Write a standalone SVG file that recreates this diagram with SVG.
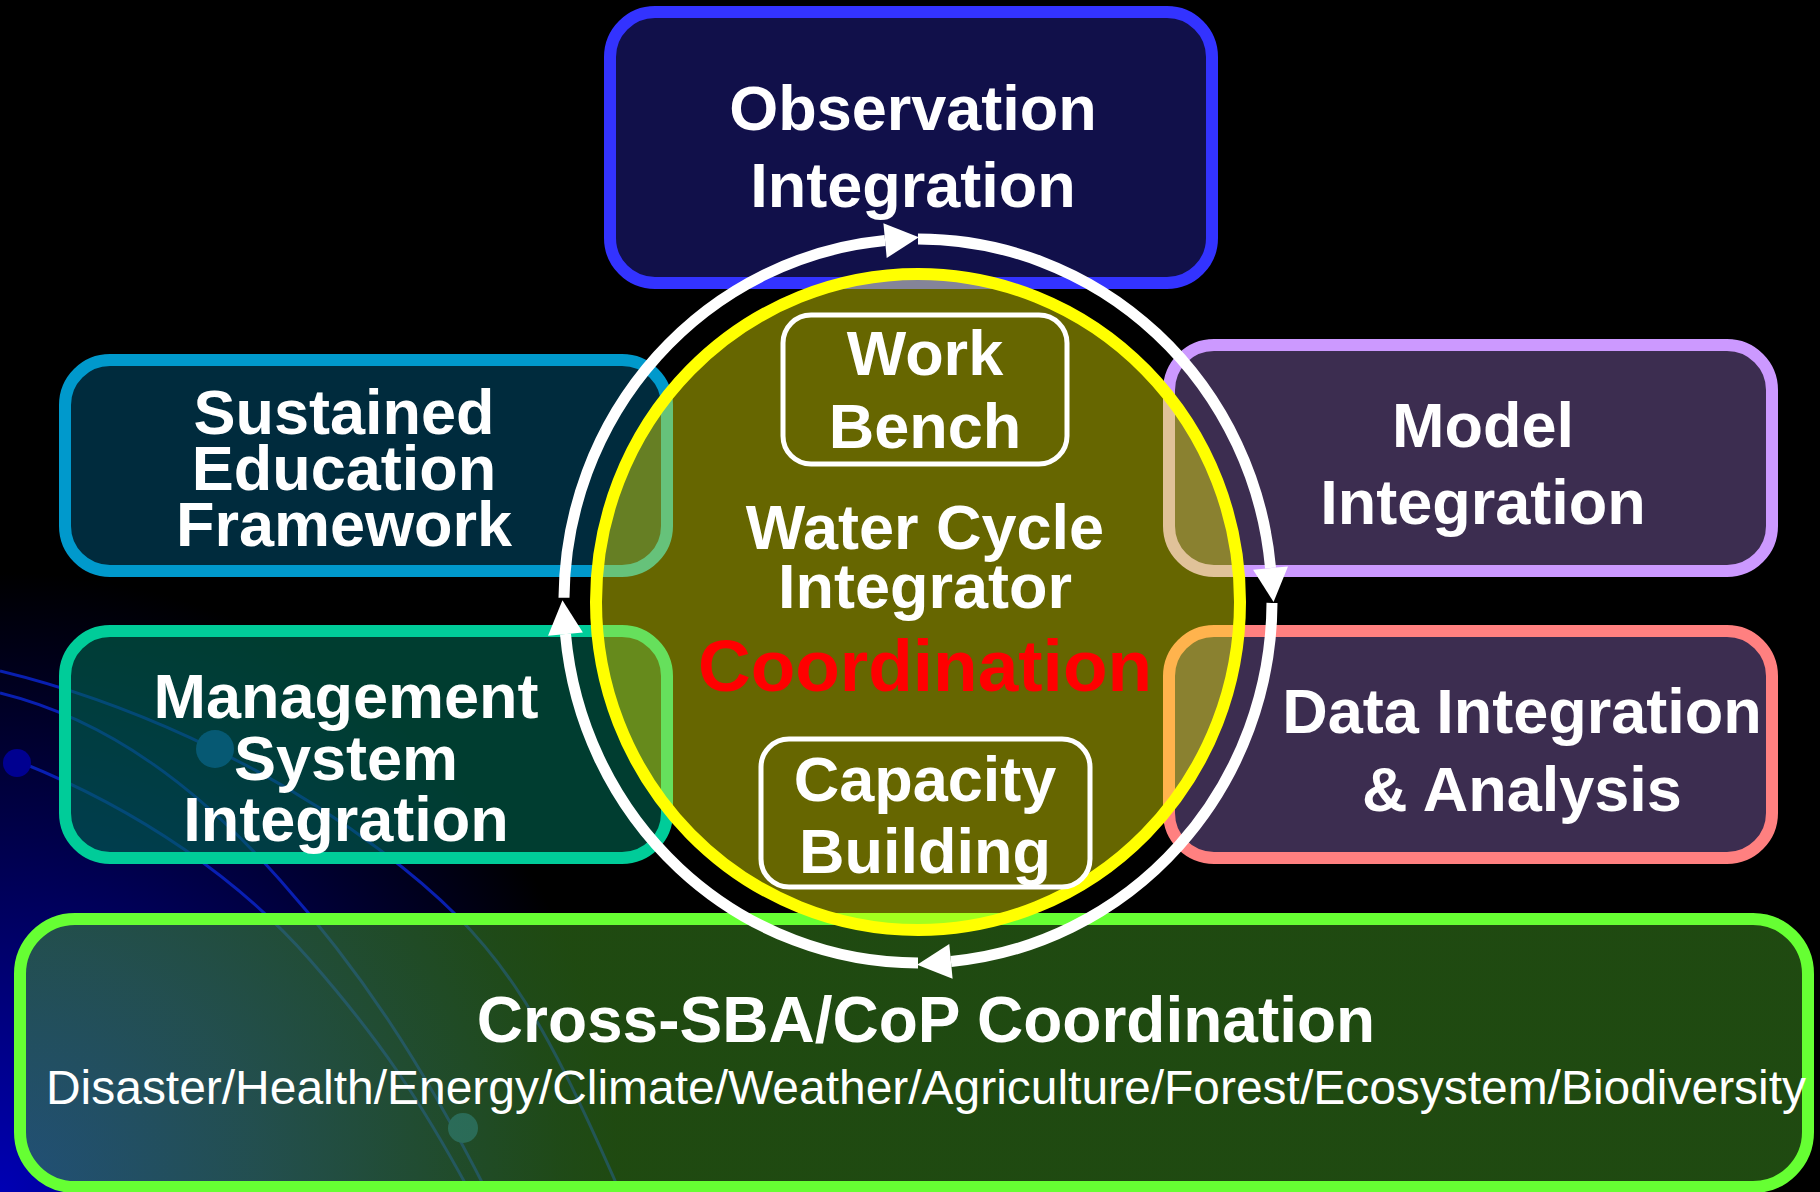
<svg xmlns="http://www.w3.org/2000/svg" width="1820" height="1192" viewBox="0 0 1820 1192">
  <defs>
    <radialGradient id="bgGlow" gradientUnits="userSpaceOnUse" cx="0" cy="1192" r="620">
      <stop offset="0" stop-color="#0000B4"/>
      <stop offset="0.45" stop-color="#000060"/>
      <stop offset="1" stop-color="#000000"/>
    </radialGradient>
    <radialGradient id="bottomFill" gradientUnits="userSpaceOnUse" cx="20" cy="1192" r="540">
      <stop offset="0" stop-color="#378552"/>
      <stop offset="0.45" stop-color="#3A8340"/>
      <stop offset="1" stop-color="#347B1C"/>
    </radialGradient>
    <marker id="ah" markerUnits="userSpaceOnUse" markerWidth="40" markerHeight="40" refX="0" refY="17.5" orient="auto" overflow="visible">
      <path d="M0,0 L34,17.5 L0,35 Z" fill="#FFFFFF"/>
    </marker>
    <style>
      .t { font-family: "Liberation Sans", Arial, Helvetica, sans-serif; font-weight: bold; font-size: 63px; fill: #FFFFFF; text-anchor: middle; }
      .box { stroke-width: 12; fill-opacity: 0.88; }
      .see { fill-opacity: 0.6; }
      .orbit { fill: none; stroke: #0A22C0; stroke-width: 3; opacity: 0.9; }
      .ring { fill: none; stroke: #FFFFFF; stroke-width: 11; marker-end: url(#ah); }
      .inner { fill: none; stroke: #FFFFFF; stroke-width: 5; }
    </style>
  </defs>

  <g id="background">
    <rect x="0" y="0" width="1820" height="1192" fill="#000000"/>
    <rect x="0" y="500" width="700" height="692" fill="url(#bgGlow)"/>
  </g>

  <g id="decor">
    <path class="orbit" d="M0,671 C120,700 260,760 380,850 S540,1010 620,1192"/>
    <path class="orbit" d="M0,693 C110,720 200,790 280,880 S420,1060 487,1192"/>
    <path class="orbit" d="M20,762 C140,810 240,880 310,960 S420,1100 470,1192"/>
    <circle cx="17" cy="763" r="14" fill="#000090"/>
    <circle cx="215" cy="749" r="19" fill="#1048A8"/>
    <circle cx="463" cy="1128" r="15" fill="#1A50A0"/>
  </g>

  <g id="observation-integration">
    <rect class="box" x="610" y="12" width="602" height="271" rx="45" fill="#131254" stroke="#3333FF"/>
    <text class="t" x="913" y="130">Observation</text>
    <text class="t" x="913" y="207">Integration</text>
  </g>

  <g id="sustained-education-framework">
    <rect class="box" x="65" y="360" width="602" height="211" rx="45" fill="#003145" stroke="#0099CC"/>
    <text class="t" x="344" y="434">Sustained</text>
    <text class="t" x="344" y="490">Education</text>
    <text class="t" x="344" y="546">Framework</text>
  </g>

  <g id="management-system-integration">
    <rect class="box see" x="65" y="631" width="602" height="227" rx="45" fill="#006650" stroke="#00CC99"/>
    <text class="t" x="346" y="718">Management</text>
    <text class="t" x="346" y="780">System</text>
    <text class="t" x="346" y="841">Integration</text>
  </g>

  <g id="model-integration">
    <rect class="box" x="1169" y="345" width="603" height="226" rx="45" fill="#44335B" stroke="#CC99FF"/>
    <text class="t" x="1483" y="447">Model</text>
    <text class="t" x="1483" y="524">Integration</text>
  </g>

  <g id="data-integration-analysis">
    <rect class="box" x="1169" y="631" width="603" height="227" rx="45" fill="#44335B" stroke="#FF8080"/>
    <text class="t" x="1522" y="733">Data Integration</text>
    <text class="t" x="1522" y="811">&amp; Analysis</text>
  </g>

  <g id="cross-sba-cop-coordination">
    <rect class="box see" x="20" y="919" width="1788" height="268" rx="55" fill="url(#bottomFill)" stroke="#66FF33"/>
    <text class="t" x="926" y="1042" style="font-size:64px;">Cross-SBA/CoP Coordination</text>
    <text x="46" y="1104" textLength="1760" lengthAdjust="spacingAndGlyphs" style="font-family:'Liberation Sans',Arial,Helvetica,sans-serif;font-size:48px;fill:#FFFFFF;">Disaster/Health/Energy/Climate/Weather/Agriculture/Forest/Ecosystem/Biodiversity</text>
  </g>

  <g id="water-cycle-integrator">
    <ellipse cx="918" cy="602" rx="322" ry="328" fill="#FFFF00" fill-opacity="0.4" stroke="#FFFF00" stroke-width="12"/>
    <text class="t" x="925" y="549">Water Cycle</text>
    <text class="t" x="925" y="608">Integrator</text>
    <text class="t" x="925" y="691" style="font-size:73px;fill:#FF0000;">Coordination</text>
  </g>

  <g id="connectors">
    <path class="ring" d="M564,597.8 A354,362 0 0 1 885.06,240.57"/>
    <path class="ring" d="M918,239 A354,362 0 0 1 1270.53,568.07"/>
    <path class="ring" d="M1272,602.9 A354,362 0 0 1 950.94,961.43"/>
    <path class="ring" d="M918,963 A354,362 0 0 1 565.47,634.07"/>
  </g>

  <g id="work-bench">
    <rect class="inner" x="783" y="315" width="284" height="149" rx="28"/>
    <text class="t" x="925" y="375">Work</text>
    <text class="t" x="925" y="448">Bench</text>
  </g>

  <g id="capacity-building">
    <rect class="inner" x="761" y="739" width="329" height="148" rx="28"/>
    <text class="t" x="925" y="801">Capacity</text>
    <text class="t" x="925" y="873">Building</text>
  </g>
</svg>
